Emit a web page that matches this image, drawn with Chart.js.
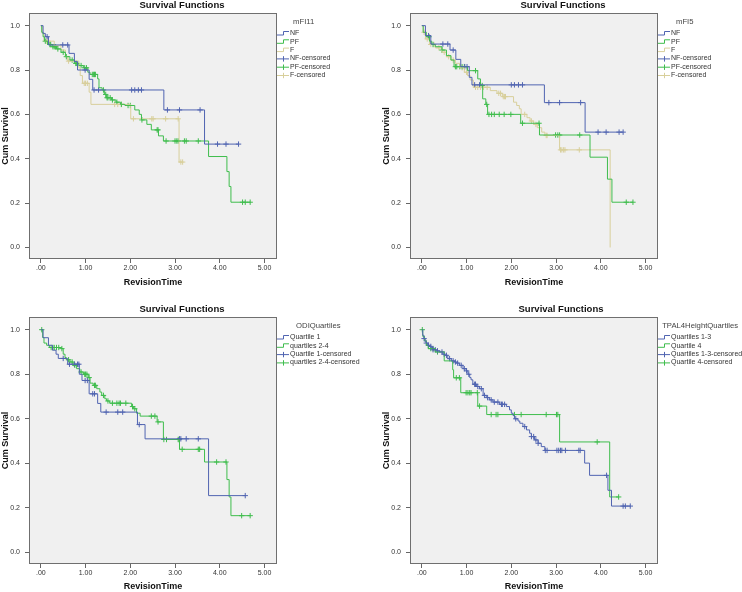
<!DOCTYPE html>
<html>
<head>
<meta charset="utf-8">
<script src="https://cdn.jsdelivr.net/npm/chart.js@4.4.0/dist/chart.umd.min.js"></script>
<style>
  html, body { margin: 0; padding: 0; background: #fff; }
  #wrap { position: relative; width: 742px; height: 592px; }
  canvas { position: absolute; }
</style>
</head>
<body>
<div id="wrap">
  <canvas id="c1" width="371" height="296" style="left:0;top:0"></canvas>
  <canvas id="c2" width="371" height="296" style="left:371px;top:0"></canvas>
  <canvas id="c3" width="371" height="296" style="left:0;top:296px"></canvas>
  <canvas id="c4" width="371" height="296" style="left:371px;top:296px"></canvas>
</div>
<script>
// axis ticks
var xTickVals = [0, 1, 2, 3, 4, 5];
var xTickLabels = [".00", "1.00", "2.00", "3.00", "4.00", "5.00"];
var yTickVals = [0, 0.2, 0.4, 0.6, 0.8, 1.0];
var yTickLabels = ["0.0", "0.2", "0.4", "0.6", "0.8", "1.0"];

// panel 1: mFI11
var mfi11Groups = ["NF", "PF", "F"];
var mfi11NF_t = [0.05, 0.1, 0.17, 0.63, 0.75, 0.82, 1.08, 1.16, 2.75, 3.66];
var mfi11NF_s = [0.965, 0.95, 0.913, 0.875, 0.838, 0.8, 0.758, 0.71, 0.62, 0.466];
var mfi11NF_cens = [0.14, 0.49, 0.6, 0.99, 1.19, 1.29, 2.03, 2.1, 2.18, 2.25, 2.83, 3.1, 3.56, 3.95, 4.14, 4.42];
var mfi11PF_t = [0.02, 0.05, 0.08, 0.15, 0.25, 0.35, 0.45, 0.55, 0.65, 0.75, 0.85, 0.95, 1.05, 1.1, 1.27, 1.3, 1.37, 1.42, 1.47, 1.58, 1.68, 1.78, 1.88, 2.1, 2.2, 2.25, 2.37, 2.47, 2.63, 2.74, 3.75, 4.16, 4.21, 4.25];
var mfi11PF_s = [0.97, 0.95, 0.93, 0.915, 0.905, 0.895, 0.88, 0.86, 0.845, 0.83, 0.82, 0.81, 0.79, 0.78, 0.76, 0.72, 0.71, 0.69, 0.675, 0.665, 0.655, 0.645, 0.64, 0.62, 0.6, 0.575, 0.555, 0.53, 0.503, 0.48, 0.41, 0.342, 0.275, 0.204];
var mfi11PF_cens = [0.1, 0.2, 0.22, 0.27, 0.3, 0.33, 0.38, 0.5, 0.57, 0.7, 0.78, 0.8, 0.9, 0.98, 1.02, 1.15, 1.18, 1.2, 1.22, 1.4, 1.45, 1.48, 1.5, 1.55, 1.6, 1.7, 1.8, 1.95, 2.0, 2.26, 2.6, 2.62, 2.8, 3.0, 3.04, 3.07, 3.21, 3.25, 3.52, 4.51, 4.57, 4.68];
var mfi11F_t = [0.03, 0.07, 0.3, 0.45, 0.55, 0.6, 0.85, 0.88, 0.93, 1.08, 1.12, 2.01, 3.09];
var mfi11F_s = [0.965, 0.93, 0.91, 0.89, 0.86, 0.84, 0.81, 0.775, 0.74, 0.7, 0.645, 0.58, 0.385];
var mfi11F_cens = [0.13, 0.16, 0.62, 0.97, 1.0, 1.04, 1.65, 1.72, 1.8, 2.07, 2.48, 2.51, 2.79, 3.07, 3.13, 3.17];

// panel 2: mFI5
var mfi5Groups = ["NF", "PF", "F"];
var mfi5NF_t = [0.08, 0.2, 0.63, 0.76, 0.87, 1.06, 1.12, 2.74, 3.65];
var mfi5NF_s = [0.955, 0.917, 0.89, 0.848, 0.815, 0.767, 0.733, 0.653, 0.52];
var mfi5NF_cens = [0.15, 0.47, 0.58, 0.7, 0.96, 1.01, 1.18, 1.29, 2.0, 2.07, 2.16, 2.25, 2.84, 3.08, 3.55, 3.94, 4.12, 4.41, 4.5];
var mfi5PF_t = [0.03, 0.1, 0.17, 0.22, 0.3, 0.45, 0.55, 0.65, 0.72, 1.02, 1.25, 1.31, 1.36, 1.43, 1.47, 2.21, 2.63, 3.76, 4.15, 4.25];
var mfi5PF_s = [0.97, 0.95, 0.93, 0.915, 0.905, 0.89, 0.865, 0.845, 0.815, 0.797, 0.76, 0.73, 0.67, 0.645, 0.6, 0.56, 0.507, 0.407, 0.308, 0.204];
var mfi5PF_cens = [0.16, 0.25, 0.45, 0.75, 0.78, 0.85, 0.9, 0.95, 1.2, 1.35, 1.45, 1.5, 1.56, 1.62, 1.73, 1.84, 1.99, 2.25, 2.62, 2.99, 3.04, 3.08, 3.53, 4.57, 4.72];
var mfi5F_t = [0.03, 0.08, 0.17, 0.3, 0.45, 0.55, 0.65, 0.75, 0.85, 0.95, 1.02, 1.08, 1.15, 1.53, 1.68, 1.8, 2.05, 2.12, 2.18, 2.22, 2.35, 2.42, 2.5, 2.58, 2.68, 2.75, 3.08, 4.21];
var mfi5F_s = [0.97, 0.94, 0.915, 0.9, 0.88, 0.86, 0.845, 0.83, 0.81, 0.79, 0.775, 0.755, 0.722, 0.707, 0.695, 0.68, 0.655, 0.64, 0.625, 0.6, 0.585, 0.57, 0.555, 0.54, 0.52, 0.505, 0.44, 0.0];
var mfi5F_cens = [0.05, 0.12, 0.2, 0.27, 0.38, 0.5, 0.6, 0.7, 0.9, 1.0, 1.2, 1.25, 1.31, 1.38, 1.46, 1.72, 1.76, 1.82, 1.85, 1.87, 2.3, 2.45, 2.55, 2.78, 2.8, 3.1, 3.13, 3.17, 3.2, 3.52];

// panel 3: ODIQuartiles
var odiGroups = ["Quartile 1", "quartiles 2-4"];
var odiQ1_t = [0.05, 0.17, 0.26, 0.34, 0.39, 0.6, 0.86, 0.92, 1.08, 1.27, 1.34, 2.16, 2.33, 3.75];
var odiQ1_s = [0.964, 0.93, 0.908, 0.89, 0.871, 0.845, 0.8, 0.772, 0.712, 0.669, 0.63, 0.574, 0.51, 0.255];
var odiQ1_cens = [0.5, 0.64, 0.75, 0.82, 0.85, 0.99, 1.04, 1.16, 1.2, 1.46, 1.72, 1.83, 2.2, 3.1, 3.13, 3.25, 3.52, 4.57];
var odiQ24_t = [0.04, 0.07, 0.13, 0.19, 0.46, 0.5, 0.54, 0.57, 0.65, 0.72, 0.8, 0.87, 0.95, 1.06, 1.1, 1.17, 1.25, 1.32, 1.36, 1.43, 1.47, 1.54, 2.03, 2.07, 2.14, 2.22, 2.6, 2.74, 3.1, 3.66, 4.16, 4.21, 4.25];
var odiQ24_s = [0.965, 0.94, 0.93, 0.92, 0.915, 0.89, 0.875, 0.865, 0.855, 0.84, 0.825, 0.81, 0.8, 0.785, 0.76, 0.75, 0.735, 0.72, 0.705, 0.69, 0.68, 0.67, 0.655, 0.645, 0.625, 0.612, 0.586, 0.507, 0.463, 0.406, 0.327, 0.249, 0.165];
var odiQ24_cens = [0.02, 0.23, 0.27, 0.3, 0.35, 0.4, 0.47, 0.62, 0.7, 0.76, 0.9, 0.98, 1.0, 1.03, 1.08, 1.2, 1.22, 1.4, 1.5, 1.6, 1.7, 1.75, 1.78, 1.9, 2.05, 2.1, 2.47, 2.55, 2.62, 2.75, 2.81, 3.07, 3.09, 3.16, 3.52, 3.55, 3.93, 4.14, 4.49, 4.68];

// panel 4: TPAL4HeightQuartiles
var tpalGroups = ["Quartiles 1-3", "Quartile 4"];
var tpalQ13_t = [0.02, 0.045, 0.075, 0.1, 0.13, 0.17, 0.21, 0.25, 0.32, 0.4, 0.47, 0.51, 0.58, 0.66, 0.73, 0.77, 0.84, 0.92, 0.99, 1.03, 1.07, 1.1, 1.14, 1.22, 1.29, 1.37, 1.44, 1.51, 1.59, 1.74, 1.89, 1.96, 2.0, 2.04, 2.07, 2.15, 2.19, 2.26, 2.34, 2.41, 2.45, 2.52, 2.6, 2.67, 2.75, 3.64, 3.75, 4.16, 4.24];
var tpalQ13_s = [0.975, 0.96, 0.945, 0.94, 0.93, 0.925, 0.92, 0.91, 0.905, 0.9, 0.89, 0.885, 0.87, 0.86, 0.855, 0.85, 0.84, 0.825, 0.815, 0.8, 0.785, 0.775, 0.755, 0.745, 0.735, 0.705, 0.695, 0.685, 0.675, 0.665, 0.655, 0.64, 0.625, 0.615, 0.6, 0.59, 0.58, 0.565, 0.55, 0.535, 0.52, 0.505, 0.49, 0.475, 0.458, 0.401, 0.346, 0.279, 0.208];
var tpalQ13_cens = [0.05, 0.1, 0.15, 0.2, 0.25, 0.3, 0.35, 0.45, 0.5, 0.55, 0.62, 0.7, 0.75, 0.8, 0.88, 0.95, 1.0, 1.05, 1.18, 1.2, 1.25, 1.33, 1.4, 1.47, 1.55, 1.62, 1.7, 1.78, 1.8, 1.85, 2.1, 2.3, 2.45, 2.5, 2.55, 2.6, 2.76, 2.8, 3.02, 3.06, 3.1, 3.13, 3.21, 3.51, 3.54, 4.13, 4.5, 4.55, 4.66];
var tpalQ4_t = [0.02, 0.06, 0.1, 0.14, 0.3, 0.5, 0.69, 0.71, 0.87, 1.25, 1.45, 3.08, 4.2];
var tpalQ4_s = [0.97, 0.95, 0.93, 0.915, 0.9, 0.86, 0.82, 0.784, 0.717, 0.657, 0.619, 0.496, 0.249];
var tpalQ4_cens = [0.01, 0.2, 0.25, 0.35, 0.77, 0.84, 0.99, 1.03, 1.07, 1.1, 1.24, 1.29, 1.55, 1.66, 1.7, 2.07, 2.22, 2.78, 3.01, 3.04, 3.92, 4.4];

var groupColors = ["#5064b1", "#3fbd4d", "#d8cf9b"];
var fontFam = "'Liberation Sans', Arial, sans-serif";

// survival value of a step curve at time x
function stepValue(t, s, x) {
  var v = 1;
  for (var i = 0; i < t.length; i++) {
    if (t[i] <= x) v = s[i];
  }
  return v;
}

function curvePoints(t, s, cens) {
  var pts = [{ x: 0, y: 1 }];
  for (var i = 0; i < t.length; i++) pts.push({ x: t[i], y: s[i] });
  var last = Math.max.apply(null, cens);
  if (last > t[t.length - 1]) pts.push({ x: last, y: s[s.length - 1] });
  return pts;
}

var kmPlugin = {
  id: "km",
  beforeDatasetsDraw: function (chart) {
    var a = chart.chartArea;
    var ctx = chart.ctx;
    ctx.save();
    ctx.fillStyle = "#f0f0f0";
    ctx.fillRect(a.left, a.top, a.right - a.left, a.bottom - a.top);
    ctx.restore();
  },
  afterDraw: function (chart) {
    var o = chart.options.plugins.km;
    var a = chart.chartArea;
    var ctx = chart.ctx;
    ctx.save();
    // frame
    ctx.strokeStyle = "#6f6f6f";
    ctx.lineWidth = 1;
    ctx.strokeRect(a.left + 0.5, a.top + 0.5, a.right - a.left - 1, a.bottom - a.top - 1);

    // title
    ctx.fillStyle = "#111";
    ctx.font = "bold 9.5px " + fontFam;
    ctx.textAlign = "center";
    ctx.textBaseline = "middle";
    ctx.fillText("Survival Functions", o.titleX, o.titleY);

    // legend
    var R = a.right;
    var tx = R + 13;
    ctx.font = "7px " + fontFam;
    var maxW = 0;
    o.entries.forEach(function (e) {
      maxW = Math.max(maxW, ctx.measureText(e.label).width);
    });
    ctx.fillStyle = "#444";
    ctx.font = "7.7px " + fontFam;
    ctx.textAlign = "center";
    ctx.fillText(o.legendTitle, (R + tx + maxW) / 2, a.top + 8.5);
    ctx.font = "7px " + fontFam;
    ctx.textAlign = "left";
    o.entries.forEach(function (e, i) {
      var y = a.top + 20.5 + i * 8.3;
      ctx.strokeStyle = e.color;
      ctx.beginPath();
      if (e.cens) {
        ctx.moveTo(R, y + 0.5);
        ctx.lineTo(R + 12, y + 0.5);
        ctx.moveTo(R + 6.5, y - 2.2);
        ctx.lineTo(R + 6.5, y + 3.2);
      } else {
        ctx.moveTo(R, y + 1.5);
        ctx.lineTo(R + 6.5, y + 1.5);
        ctx.lineTo(R + 6.5, y - 2);
        ctx.lineTo(R + 12, y - 2);
      }
      ctx.stroke();
      ctx.fillStyle = "#333";
      ctx.fillText(e.label, tx, y);
    });
    ctx.restore();
  },
};

function makeChart(id, legendTitle, names, times, survs, censs, box) {
  var datasets = [];
  var entries = [];
  names.forEach(function (n, i) {
    datasets.push({
      label: n,
      data: curvePoints(times[i], survs[i], censs[i]),
      showLine: true,
      stepped: true,
      borderColor: groupColors[i],
      borderWidth: 1,
      pointRadius: 0,
      fill: false,
    });
    entries.push({ label: n, color: groupColors[i], cens: false });
  });
  names.forEach(function (n, i) {
    datasets.push({
      label: n + "-censored",
      data: censs[i].map(function (c) {
        return { x: c, y: stepValue(times[i], survs[i], c) };
      }),
      showLine: false,
      pointStyle: "cross",
      pointRadius: 2.7,
      borderColor: groupColors[i],
      borderWidth: 1,
    });
    entries.push({ label: n + "-censored", color: groupColors[i], cens: true });
  });

  return new Chart(document.getElementById(id).getContext("2d"), {
    type: "scatter",
    data: { datasets: datasets },
    options: {
      responsive: false,
      animation: false,
      events: [],
      layout: { padding: { left: box.padLeft, top: box.padTop, right: box.padRight, bottom: 0 } },
      plugins: {
        legend: { display: false },
        tooltip: { enabled: false },
        km: { legendTitle: legendTitle, entries: entries, titleX: box.titleX, titleY: box.titleY },
      },
      scales: {
        x: {
          type: "linear",
          min: -0.265,
          max: 5.28,
          afterBuildTicks: function (s) {
            s.ticks = xTickVals.map(function (v) { return { value: v }; });
          },
          afterFit: function (s) { s.height = box.axisH; },
          ticks: {
            font: { size: 7, family: fontFam },
            color: "#333",
            padding: 1,
            maxRotation: 0,
            callback: function (v, i) { return xTickLabels[i]; },
          },
          grid: { drawOnChartArea: false, drawTicks: true, tickLength: 4, color: "#666" },
          border: { display: false },
          title: {
            display: true,
            text: "RevisionTime",
            color: "#111",
            font: { size: 9, weight: "bold", family: fontFam },
            padding: { top: 0, bottom: box.xTitlePad },
          },
        },
        y: {
          type: "linear",
          min: -0.052,
          max: 1.057,
          afterBuildTicks: function (s) {
            s.ticks = yTickVals.map(function (v) { return { value: v }; });
          },
          afterFit: function (s) { s.width = box.axisW; },
          ticks: {
            font: { size: 7, family: fontFam },
            color: "#333",
            padding: 5,
            callback: function (v, i) { return yTickLabels[i]; },
          },
          grid: { drawOnChartArea: false, drawTicks: true, tickLength: 4, color: "#666" },
          border: { display: false },
          title: {
            display: true,
            text: "Cum Survival",
            color: "#111",
            font: { size: 9, weight: "bold", family: fontFam },
            padding: { top: 0, bottom: 0 },
          },
        },
      },
    },
    plugins: [kmPlugin],
  });
}

document.addEventListener("DOMContentLoaded", function () {
  makeChart("c1", "mFI11", mfi11Groups,
    [mfi11NF_t, mfi11PF_t, mfi11F_t], [mfi11NF_s, mfi11PF_s, mfi11F_s], [mfi11NF_cens, mfi11PF_cens, mfi11F_cens],
    { padLeft: 0, padTop: 13, padRight: 94, axisW: 29, axisH: 37, xTitlePad: 7.6, titleX: 182, titleY: 5.5 });

  makeChart("c2", "mFI5", mfi5Groups,
    [mfi5NF_t, mfi5PF_t, mfi5F_t], [mfi5NF_s, mfi5PF_s, mfi5F_s], [mfi5NF_cens, mfi5PF_cens, mfi5F_cens],
    { padLeft: 10, padTop: 13, padRight: 84, axisW: 29, axisH: 37, xTitlePad: 7.6, titleX: 192, titleY: 5.5 });

  makeChart("c3", "ODIQuartiles", odiGroups,
    [odiQ1_t, odiQ24_t], [odiQ1_s, odiQ24_s], [odiQ1_cens, odiQ24_cens],
    { padLeft: 0, padTop: 21, padRight: 94, axisW: 29, axisH: 28, xTitlePad: 0, titleX: 182, titleY: 13.5 });

  makeChart("c4", "TPAL4HeightQuartiles", tpalGroups,
    [tpalQ13_t, tpalQ4_t], [tpalQ13_s, tpalQ4_s], [tpalQ13_cens, tpalQ4_cens],
    { padLeft: 10, padTop: 21, padRight: 84, axisW: 29, axisH: 28, xTitlePad: 0, titleX: 190, titleY: 13.5 });
});
</script>
</body>
</html>
